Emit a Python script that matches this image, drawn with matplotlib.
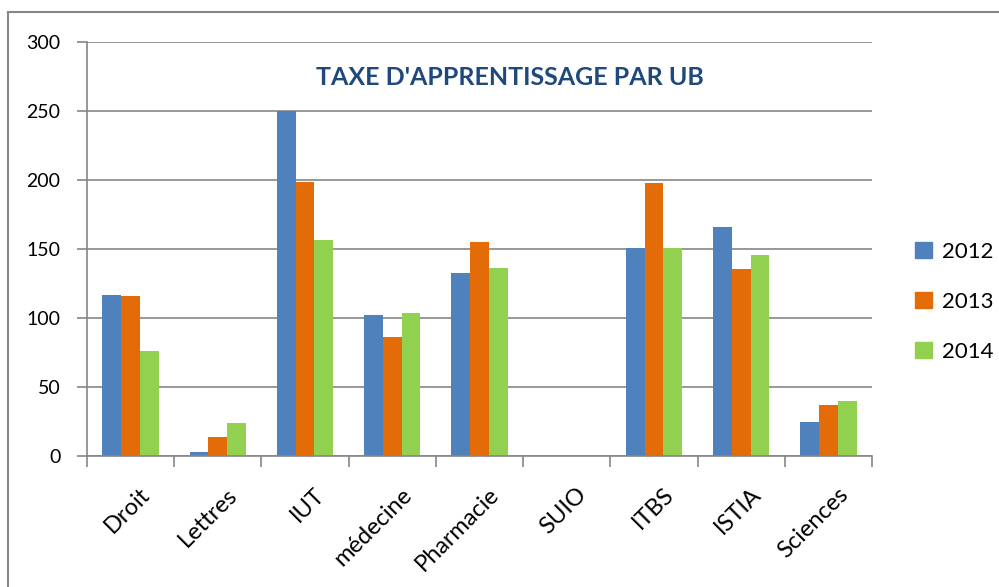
import matplotlib
matplotlib.use("Agg")
import matplotlib.pyplot as plt
import matplotlib.transforms as mtransforms
import numpy as np
from matplotlib.lines import Line2D

categories = ["Droit", "Lettres", "IUT", "médecine", "Pharmacie", "SUIO", "ITBS", "ISTIA", "Sciences"]
years = ["2012", "2013", "2014"]
v2012 = [117, 3, 250, 102, 133, 0, 151, 166, 24.5]
v2013 = [116, 14, 198.5, 86, 155, 0, 198, 135.5, 37]
v2014 = [76, 24, 157, 103.5, 136.5, 0, 151, 145.5, 40]
colors = ["#4F81BD", "#E36C09", "#92D050"]

plt.rcParams["font.family"] = ["Lato", "DejaVu Sans"]

fig = plt.figure(figsize=(9.99, 5.87), dpi=100)
ax = fig.add_axes([0.087, 0.223, 0.786, 0.705])

x = np.arange(len(categories))
w = 0.215
for i, (vals, c, lab) in enumerate(zip([v2012, v2013, v2014], colors, years)):
    ax.bar(x + (i - 1) * w, vals, width=w, color=c, label=lab, zorder=2)

grid_c = "#868686"
ax.set_ylim(0, 300)
ax.set_xlim(-0.5, len(categories) - 0.5)
ax.set_yticks(range(0, 301, 50))
ax.yaxis.grid(True, color=grid_c, linewidth=1.2, zorder=0)
ax.set_axisbelow(True)
for s in ["top", "right"]:
    ax.spines[s].set_visible(False)
for s in ["left", "bottom"]:
    ax.spines[s].set_color(grid_c)
    ax.spines[s].set_linewidth(1.2)

# ticks between categories, labels centred on categories
ax.set_xticks(np.arange(-0.5, len(categories), 1.0), minor=False)
ax.set_xticklabels([])
ax.tick_params(axis="x", which="major", length=8, color=grid_c, width=1.2)
ax.set_xticks(x, minor=True)
ax.set_xticklabels(categories, minor=True, rotation=45, ha="right", rotation_mode="anchor", fontsize=17)
ax.tick_params(axis="x", which="minor", length=0, pad=20)
shift = mtransforms.ScaledTranslation(9 / 100, 0, fig.dpi_scale_trans)
for lbl in ax.get_xticklabels(minor=True):
    lbl.set_transform(lbl.get_transform() + shift)
ax.tick_params(axis="y", length=7, color=grid_c, width=1.2, labelsize=14, pad=12)

fig.text(0.51, 0.868, "TAXE D'APPRENTISSAGE PAR UB", ha="center", va="center",
         fontsize=18, fontweight="bold", color="#1F497D")

handles = [plt.Rectangle((0, 0), 1, 1, color=c) for c in colors]
fig.legend(handles, years, loc="center left", bbox_to_anchor=(0.896, 0.486),
           frameon=False, fontsize=16, handlelength=0.75, handleheight=0.75,
           labelspacing=1.35, handletextpad=0.45)

# outer chart frame
fig.add_artist(Line2D([0.008, 0.008], [0.0, 0.98], transform=fig.transFigure, color=grid_c, lw=1.5))
fig.add_artist(Line2D([0.008, 1.0], [0.98, 0.98], transform=fig.transFigure, color=grid_c, lw=1.5))

fig.savefig("out.png", dpi=100)
